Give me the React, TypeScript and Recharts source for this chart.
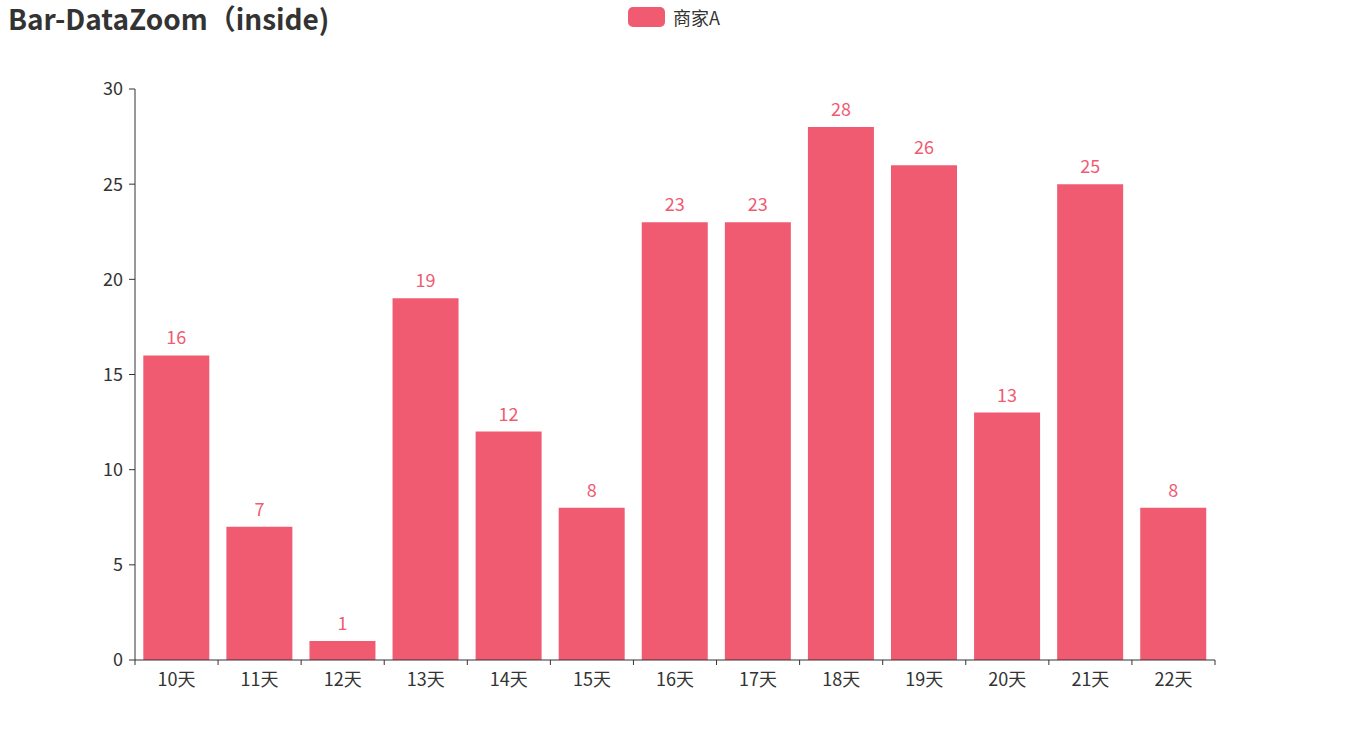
import React from 'react';
import { BarChart, Bar, XAxis, YAxis, LabelList } from 'recharts';

const days = ['10天', '11天', '12天', '13天', '14天', '15天', '16天', '17天', '18天', '19天', '20天', '21天', '22天'];
const sellerA = [16, 7, 1, 19, 12, 8, 23, 23, 28, 26, 13, 25, 8];
const yTicks = [0, 5, 10, 15, 20, 25, 30];

const data = days.map((day, i) => ({ day, value: sellerA[i] }));

const BAR_COLOR = '#f05b72';
const AXIS_COLOR = '#333';
const FONT = '"Noto Sans CJK SC", "Noto Sans", sans-serif';

const PLOT_LEFT = 135;
const PLOT_RIGHT = 1215;
const band = (PLOT_RIGHT - PLOT_LEFT) / days.length;

function DayTick(props: any) {
    const { x, y, payload, index } = props;
    const left = x - band / 2;
    return (
        <g>
            <line x1={left} y1={y - 8} x2={left} y2={y - 3} stroke={AXIS_COLOR} />
            {index === days.length - 1 && (
                <line x1={x + band / 2} y1={y - 8} x2={x + band / 2} y2={y - 3} stroke={AXIS_COLOR} />
            )}
            <text x={x} y={y + 18} textAnchor="middle" fill={AXIS_COLOR} fontSize={18} fontFamily={FONT}>
                {payload.value}
            </text>
        </g>
    );
}

export default function App() {
    return (
        <div style={{ position: 'absolute', left: 0, top: 0, width: 1350, height: 750, background: '#fff' }}>
            <div style={{ position: 'absolute', left: 8, top: 0, fontFamily: FONT, fontWeight: 'bold', fontSize: 28, color: AXIS_COLOR, lineHeight: '36px' }}>
                Bar-DataZoom（inside)
            </div>
            <div style={{ position: 'absolute', left: 628, top: 7, display: 'flex', alignItems: 'center', fontFamily: FONT, fontSize: 18, color: AXIS_COLOR, lineHeight: '20px' }}>
                <span style={{ display: 'inline-block', width: 37, height: 20, borderRadius: 5, background: BAR_COLOR, marginRight: 8 }} />
                <span>商家A</span>
            </div>
            <BarChart
                width={1350}
                height={750}
                data={data}
                margin={{ top: 89, right: 135, left: 85, bottom: 60 }}
                barCategoryGap="10%"
            >
                <XAxis
                    dataKey="day"
                    stroke={AXIS_COLOR}
                    tickLine={false}
                    tick={<DayTick />}
                    height={30}
                    interval={0}
                />
                <YAxis
                    domain={[0, 30]}
                    ticks={yTicks}
                    width={50}
                    stroke={AXIS_COLOR}
                    tickSize={6}
                    tickMargin={6}
                    tick={{ fill: AXIS_COLOR, fontSize: 18, fontFamily: FONT }}
                    interval={0}
                />
                <Bar dataKey="value" fill={BAR_COLOR} isAnimationActive={false}>
                    <LabelList dataKey="value" position="top" offset={11} fill={BAR_COLOR} fontSize={18} fontFamily={FONT} />
                </Bar>
            </BarChart>
        </div>
    );
}
